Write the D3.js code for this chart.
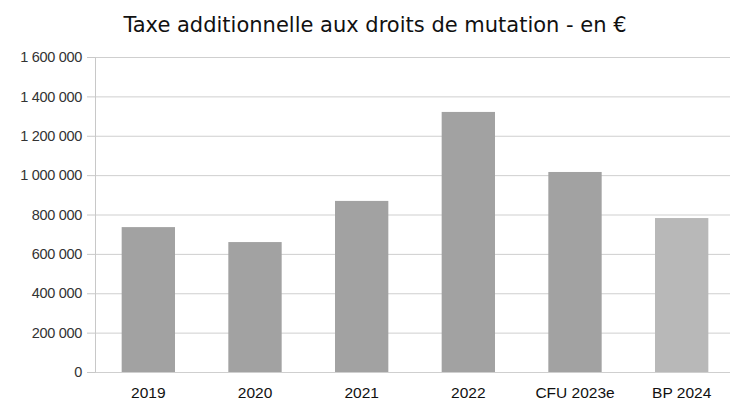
<!DOCTYPE html>
<html>
<head>
<meta charset="utf-8">
<script src="https://cdn.jsdelivr.net/npm/d3@7"></script>
<style>
  body { margin: 0; background: #fff; }
  svg { display: block; }
</style>
</head>
<body>
<svg id="chart" width="730" height="402"></svg>
<script>
var categories = ["2019", "2020", "2021", "2022", "CFU 2023e", "BP 2024"];
var values = [736000, 660000, 869000, 1321000, 1016000, 782000];
var barColors = ["#a2a2a2", "#a2a2a2", "#a2a2a2", "#a2a2a2", "#a2a2a2", "#b8b8b8"];
var yTicks = [0, 200000, 400000, 600000, 800000, 1000000, 1200000, 1400000, 1600000];

var svg = d3.select("#chart"),
    margin = {top: 57, right: -5, bottom: 30, left: 95},
    width = +svg.attr("width") - margin.left - margin.right,
    height = +svg.attr("height") - margin.top - margin.bottom;

var fmt = function(d) { return d3.format(",d")(d).replace(/,/g, " "); };

var x = d3.scaleBand().domain(categories).range([0, width]).paddingInner(0.5).paddingOuter(0.25);
var y = d3.scaleLinear().domain([0, 1600000]).range([height, 0]);

var g = svg.append("g")
    .attr("transform", "translate(" + margin.left + "," + margin.top + ")");

// gridlines
g.selectAll(".grid")
    .data(yTicks)
  .enter().append("line")
    .attr("x1", 0)
    .attr("x2", width)
    .attr("y1", function(d) { return y(d) + 0.5; })
    .attr("y2", function(d) { return y(d) + 0.5; })
    .attr("stroke", "#cfcfcf")
    .attr("stroke-width", 1);

g.selectAll(".bar")
    .data(values)
  .enter().append("rect")
    .attr("x", function(d, i) { return x(categories[i]); })
    .attr("y", function(d) { return y(d); })
    .attr("width", x.bandwidth())
    .attr("height", function(d) { return height - y(d); })
    .attr("fill", function(d, i) { return barColors[i]; });

var yAxis = g.append("g")
    .call(d3.axisLeft(y).tickValues(yTicks).tickFormat(fmt).tickSize(8).tickPadding(5));
yAxis.select(".domain").attr("stroke", "#c8c8c8");
yAxis.selectAll(".tick line").attr("stroke", "#c8c8c8");
yAxis.selectAll("text")
    .attr("fill", "#333")
    .style("font-family", "Liberation Sans, Arial, sans-serif")
    .style("font-size", "14.5px")
    .style("letter-spacing", "-0.3px");

var xAxis = g.append("g")
    .attr("transform", "translate(0," + height + ")")
    .call(d3.axisBottom(x).tickSize(0).tickPadding(15));
xAxis.select(".domain").remove();
xAxis.selectAll("text")
    .attr("fill", "#111")
    .style("font-family", "Liberation Sans, Arial, sans-serif")
    .style("font-size", "15.5px");

svg.append("text")
    .attr("x", 375)
    .attr("y", 32)
    .attr("text-anchor", "middle")
    .attr("fill", "#111")
    .style("font-family", "DejaVu Sans, Verdana, sans-serif")
    .style("font-size", "21px")
    .text("Taxe additionnelle aux droits de mutation - en €");
</script>
</body>
</html>
